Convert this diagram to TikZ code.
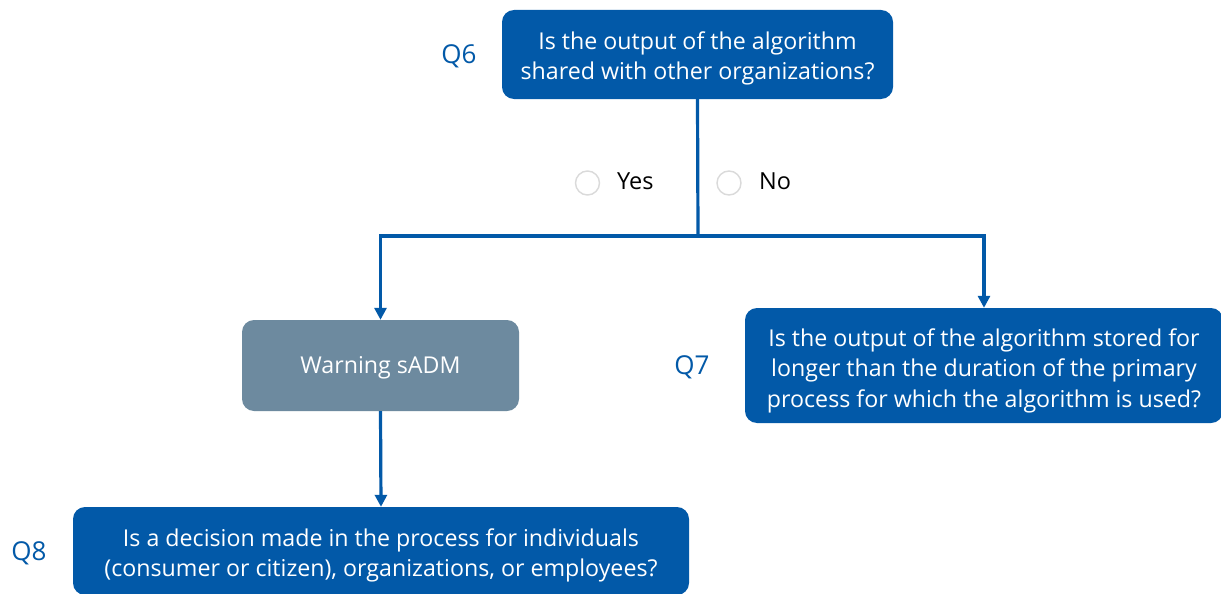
\documentclass[tikz,border=0pt]{standalone}
\usepackage{fontspec}
\setmainfont{Open Sans}
\usetikzlibrary{arrows.meta}
\definecolor{qblue}{RGB}{2,89,168}
\definecolor{warngrey}{RGB}{109,138,159}
\definecolor{ringgrey}{RGB}{218,218,218}
\tikzset{
  qbox/.style={draw=none, fill=qblue, rounded corners=12pt, inner sep=0pt},
  warnbox/.style={qbox, fill=warngrey},
  qtext/.style={text=white, align=center, inner sep=0pt,
    font=\fontsize{23.2}{30.5}\selectfont},
  qlabel/.style={text=qblue, font=\fontsize{26}{28}\selectfont, inner sep=0pt},
  answer/.style={font=\fontsize{23.5}{26}\selectfont, inner sep=0pt, anchor=west},
  ring/.style={draw=ringgrey, line width=1.4pt, circle, minimum size=24pt, inner sep=0pt},
  flow/.style={draw=qblue, line width=3.2pt},
  flowarrow/.style={flow, -{Triangle[width=12pt,length=12pt]}}
}
\begin{document}
\begin{tikzpicture}[x=1pt,y=-1pt]
  \useasboundingbox (0,0) rectangle (1221,594);
  \fill[white] (0,0) rectangle (1221,594);

  % question boxes
  \node[qbox, minimum width=391pt, minimum height=89pt] (q6) at (697.5,54.5) {};
  \node[warnbox, minimum width=277pt, minimum height=91pt] (warn) at (380.5,365.5) {};
  \node[qbox, minimum width=478pt, minimum height=115pt] (q7) at (984,365.5) {};
  \node[qbox, minimum width=616pt, minimum height=88pt] (q8) at (381,551) {};

  % box texts, set a little below the optical centre
  \node[qtext] (q6text) at ([yshift=-4pt]q6.center)
    {Is the output of the algorithm\\shared with other organizations?};
  \node[qtext] (warntext) at ([yshift=-2pt]warn.center) {Warning sADM};
  \node[qtext] (q7text) at ([yshift=-5pt]q7.center)
    {Is the output of the algorithm stored for\\longer than the duration of the primary\\process for which the algorithm is used?};
  \node[qtext] (q8text) at ([yshift=-4.5pt]q8.center)
    {Is a decision made in the process for individuals\\(consumer or citizen), organizations, or employees?};

  % question numbers
  \node[qlabel] (l6) at (459,56) {Q6};
  \node[qlabel] (l7) at (692,367) {Q7};
  \node[qlabel] (l8) at (29,553.5) {Q8};

  % answer options
  \node[ring] (yesring) at (587.5,183) {};
  \node[answer] (yes) at (617,181) {Yes};
  \node[ring] (noring) at (729,183) {};
  \node[answer] (no) at (759,181) {No};

  % connectors
  \coordinate (split) at (698,236);
  \draw[flow] (q6.south) -- (split);
  \draw[flowarrow] (split) -| (warn.north);
  \draw[flowarrow] (split) -| (q7.north);
  \draw[flowarrow] (warn.south) -- (q8.north);
\end{tikzpicture}
\end{document}
